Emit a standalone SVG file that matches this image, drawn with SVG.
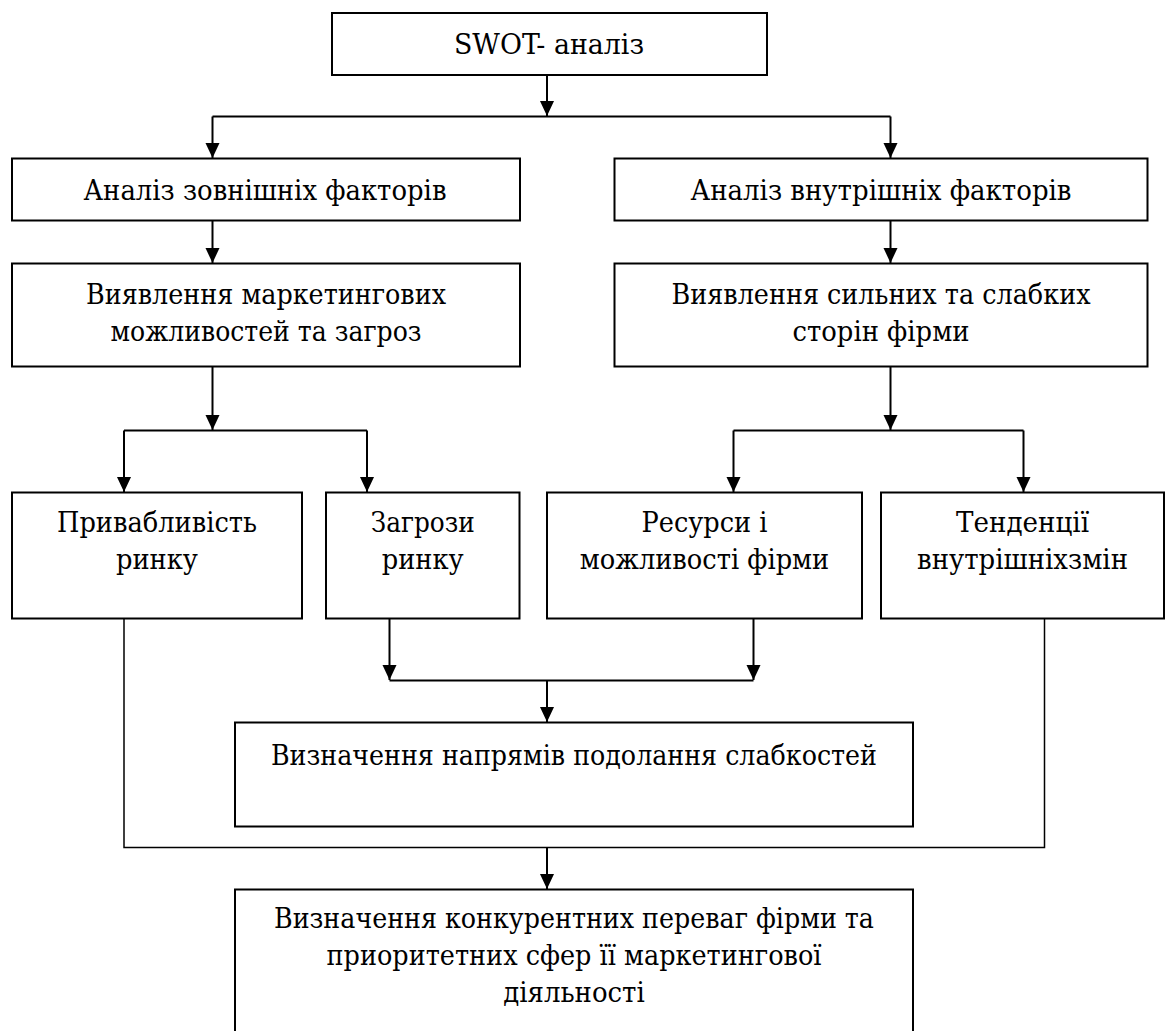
<svg xmlns="http://www.w3.org/2000/svg" width="1168" height="1031" viewBox="0 0 1168 1031">
<style>
.box{fill:#fff;stroke:#000;stroke-width:2}
.ln{fill:none;stroke:#000;stroke-width:2}
.thin{fill:none;stroke:#000;stroke-width:1.5}
.arr{fill:none;stroke:#000;stroke-width:2;marker-end:url(#ah)}
text{font-family:"DejaVu Serif","Liberation Serif",serif;font-size:28px;fill:#000;text-anchor:middle}
</style>
<defs>
<marker id="ah" markerUnits="userSpaceOnUse" markerWidth="16" markerHeight="16" refX="15" refY="7" orient="auto">
<path d="M0,0 L15,7 L0,14 Z" fill="#000"/>
</marker>
</defs>
<rect width="1168" height="1031" fill="#fff"/>
<g id="connectors">
<path class="arr" d="M547,75 V116"/>
<path class="ln" d="M212.5,116.5 H890.5"/>
<path class="arr" d="M212.5,116.5 V158"/>
<path class="arr" d="M890.5,116.5 V158"/>
<path class="arr" d="M212.5,220.5 V263"/>
<path class="arr" d="M890.5,220.5 V263"/>
<path class="arr" d="M212.5,366.5 V430"/>
<path class="ln" d="M124,430.5 H367"/>
<path class="arr" d="M124,430.5 V492"/>
<path class="arr" d="M367,430.5 V492"/>
<path class="arr" d="M890.5,366.5 V430"/>
<path class="ln" d="M733.5,430.5 H1023.5"/>
<path class="arr" d="M733.5,430.5 V492"/>
<path class="arr" d="M1023.5,430.5 V492"/>
<path class="arr" d="M389.5,618.5 V680"/>
<path class="arr" d="M753.5,618.5 V680"/>
<path class="ln" d="M389.5,680.5 H753.5"/>
<path class="arr" d="M547,680.5 V722"/>
<path class="thin" d="M124,618.5 V847.5 H1044.5 V618.5"/>
<path class="arr" d="M547,847.5 V889"/>
</g>
<g id="n-swot"><rect class="box" x="332" y="13" width="435" height="62"/><text x="549" y="54" textLength="190" lengthAdjust="spacingAndGlyphs">SWOT- аналіз</text></g>
<g id="n-ext"><rect class="box" x="12" y="158.5" width="508" height="62"/><text x="265" y="200" textLength="363" lengthAdjust="spacingAndGlyphs">Аналіз зовнішніх факторів</text></g>
<g id="n-int"><rect class="box" x="614.5" y="158.5" width="533" height="62"/><text x="881" y="200" textLength="381" lengthAdjust="spacingAndGlyphs">Аналіз внутрішніх факторів</text></g>
<g id="n-opp"><rect class="box" x="12" y="263.5" width="508" height="103"/><text x="266" y="304" textLength="360" lengthAdjust="spacingAndGlyphs">Виявлення маркетингових</text><text x="266" y="340.5" textLength="311" lengthAdjust="spacingAndGlyphs">можливостей та загроз</text></g>
<g id="n-sw"><rect class="box" x="614.5" y="263.5" width="533" height="103"/><text x="881" y="304" textLength="419" lengthAdjust="spacingAndGlyphs">Виявлення сильних та слабких</text><text x="881" y="340.5" textLength="177" lengthAdjust="spacingAndGlyphs">сторін фірми</text></g>
<g id="n-attr"><rect class="box" x="12" y="492.5" width="290" height="126"/><text x="157" y="532" textLength="200" lengthAdjust="spacingAndGlyphs">Привабливість</text><text x="157" y="568.5" textLength="82" lengthAdjust="spacingAndGlyphs">ринку</text></g>
<g id="n-thr"><rect class="box" x="326" y="492.5" width="193.5" height="126"/><text x="422.7" y="532" textLength="104" lengthAdjust="spacingAndGlyphs">Загрози</text><text x="422.7" y="568.5" textLength="82" lengthAdjust="spacingAndGlyphs">ринку</text></g>
<g id="n-res"><rect class="box" x="547" y="492.5" width="315" height="126"/><text x="704.5" y="532" textLength="126" lengthAdjust="spacingAndGlyphs">Ресурси і</text><text x="704.5" y="568.5" textLength="249.5" lengthAdjust="spacingAndGlyphs">можливості фірми</text></g>
<g id="n-trend"><rect class="box" x="881" y="492.5" width="283" height="126"/><text x="1022.5" y="532" textLength="133" lengthAdjust="spacingAndGlyphs">Тенденції</text><text x="1022.5" y="568.5" textLength="211" lengthAdjust="spacingAndGlyphs">внутрішніхзмін</text></g>
<g id="n-weak"><rect class="box" x="235" y="722.5" width="678" height="104"/><text x="574" y="765" textLength="606" lengthAdjust="spacingAndGlyphs">Визначення напрямів подолання слабкостей</text></g>
<g id="n-comp"><rect class="box" x="235" y="889.5" width="678" height="150"/><text x="574" y="928" textLength="600" lengthAdjust="spacingAndGlyphs">Визначення конкурентних переваг фірми та</text><text x="574" y="965" textLength="495" lengthAdjust="spacingAndGlyphs">приоритетних сфер її маркетингової</text><text x="574" y="1001.5" textLength="141.5" lengthAdjust="spacingAndGlyphs">діяльності</text></g>
</svg>
